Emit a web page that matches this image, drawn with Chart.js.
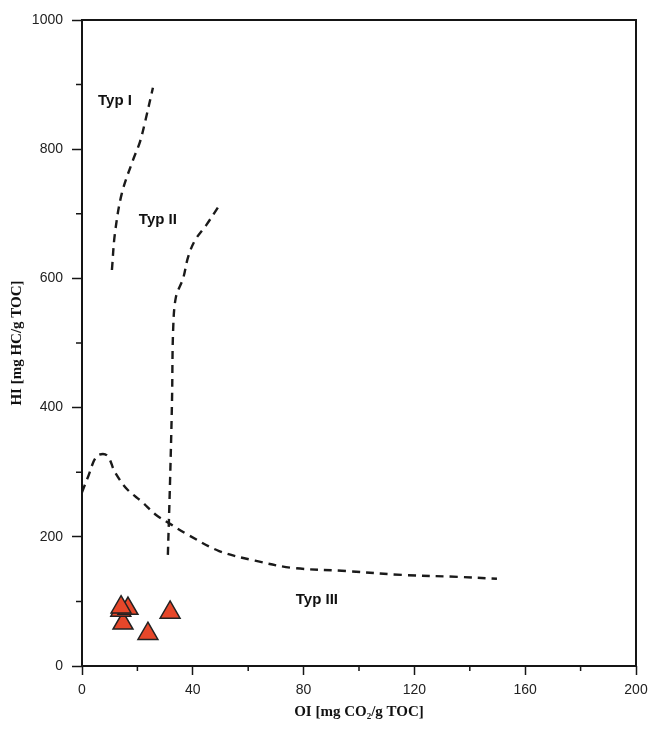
<!DOCTYPE html>
<html>
<head>
<meta charset="utf-8">
<script src="https://cdn.jsdelivr.net/npm/chart.js@4/dist/chart.umd.min.js"></script>
<style>
  html, body { margin: 0; padding: 0; background: #fff; }
  #wrap { width: 650px; height: 729px; }
</style>
</head>
<body>
<div id="wrap"><canvas id="vanKrevelen"></canvas></div>
<script>
// Kerogen type boundary curves (OI, HI)
const typ1X = [10.8, 11.9, 14.4, 18.4, 20.9, 22.7, 25.6];
const typ1Y = [613, 670, 732, 783, 811, 841, 895];

const typ2X = [31.0, 31.8, 32.5, 32.9, 33.9, 36.5, 38.3, 40.8, 45.1, 49.1];
const typ2Y = [172, 288, 412, 520, 571, 600, 633, 659, 684, 710];

const typ3X = [0, 2.2, 5.4, 9.0, 11.9, 16.2, 21.7, 26.4, 31.8, 37.9, 49.5, 62.5, 75.8, 95.3, 115.5, 135.7, 149.8];
const typ3Y = [269, 293, 325, 326, 300, 274, 254, 235, 220, 204, 178, 163, 152, 147, 141, 138, 135];

// samples
const sampleOI = [14.8, 14.0, 16.6, 14.1, 23.8, 31.8];
const sampleHI = [66, 86, 89, 91, 50, 83];

// region labels
const typLabels = ["Typ I", "Typ II", "Typ III"];
const typLabelX = [11.9, 27.4, 84.8];
const typLabelY = [875, 690, 102];

// axis ticks
const xMax = 200, xStep = 40, xMinorStep = 20;
const yMax = 1000, yStep = 200, yMinorStep = 100;

const toPoints = (xs, ys) => xs.map((x, i) => ({ x: x, y: ys[i] }));

function curve(xs, ys) {
  return {
    data: toPoints(xs, ys),
    showLine: true,
    borderColor: "#1a1a1a",
    borderWidth: 2.4,
    borderDash: [8, 6],
    pointRadius: 0,
    tension: 0.35,
    fill: false
  };
}

// frame, minor ticks and type labels
const extras = {
  id: "extras",
  afterDraw(chart) {
    const ctx = chart.ctx;
    const a = chart.chartArea;
    const xs = chart.scales.x;
    const ys = chart.scales.y;
    ctx.save();
    ctx.strokeStyle = "#151515";
    ctx.lineWidth = 2;
    ctx.strokeRect(a.left, a.top, a.right - a.left, a.bottom - a.top);

    ctx.lineWidth = 1.5;
    ctx.beginPath();
    for (let v = xMinorStep; v < xMax; v += xStep) {
      const px = xs.getPixelForValue(v);
      ctx.moveTo(px, a.bottom);
      ctx.lineTo(px, a.bottom + 5);
    }
    for (let v = yMinorStep; v < yMax; v += yStep) {
      const py = ys.getPixelForValue(v);
      ctx.moveTo(a.left, py);
      ctx.lineTo(a.left - 6, py);
    }
    ctx.stroke();

    ctx.fillStyle = "#111";
    ctx.font = "bold 15px 'Liberation Sans', Arial, sans-serif";
    ctx.textAlign = "center";
    ctx.textBaseline = "middle";
    typLabels.forEach((t, i) => {
      ctx.fillText(t, xs.getPixelForValue(typLabelX[i]), ys.getPixelForValue(typLabelY[i]));
    });
    ctx.restore();
  }
};

const ctx = document.getElementById("vanKrevelen").getContext("2d");
new Chart(ctx, {
  type: "scatter",
  data: {
    datasets: [
      curve(typ1X, typ1Y),
      curve(typ2X, typ2Y),
      curve(typ3X, typ3Y),
      {
        data: toPoints(sampleOI, sampleHI),
        pointStyle: "triangle",
        pointRadius: 11.5,
        pointHoverRadius: 11.5,
        backgroundColor: "#e6472a",
        borderColor: "#222",
        borderWidth: 1.5
      }
    ]
  },
  options: {
    responsive: true,
    maintainAspectRatio: false,
    animation: false,
    layout: { padding: { top: 20, right: 14, left: 0, bottom: 0 } },
    plugins: {
      legend: { display: false },
      tooltip: { enabled: false }
    },
    scales: {
      x: {
        type: "linear",
        min: 0,
        max: xMax,
        afterFit: (s) => { s.height = 63; s.paddingLeft = 0; s.paddingRight = 0; },
        border: { display: false },
        grid: { drawOnChartArea: false, tickLength: 9, tickColor: "#151515", tickWidth: 1.5 },
        ticks: {
          stepSize: xStep,
          padding: 7,
          color: "#222",
          font: { family: "'Liberation Sans', Arial, sans-serif", size: 14 }
        },
        title: {
          display: true,
          text: "OI [mg CO\u2082/g TOC]",
          color: "#111",
          padding: { top: 0, bottom: 8 },
          font: { family: "'Liberation Serif', 'Times New Roman', serif", size: 15, weight: "bold" }
        }
      },
      y: {
        type: "linear",
        min: 0,
        max: yMax,
        afterFit: (s) => { s.width = 82; s.paddingTop = 0; s.paddingBottom = 0; },
        border: { display: false },
        grid: { drawOnChartArea: false, tickLength: 10, tickColor: "#151515", tickWidth: 1.5 },
        ticks: {
          stepSize: yStep,
          padding: 9,
          color: "#222",
          callback: (v) => String(v),
          font: { family: "'Liberation Sans', Arial, sans-serif", size: 14 }
        },
        title: {
          display: true,
          text: "HI [mg HC/g TOC]",
          color: "#111",
          padding: { top: 8, bottom: 0 },
          font: { family: "'Liberation Serif', 'Times New Roman', serif", size: 15, weight: "bold" }
        }
      }
    }
  },
  plugins: [extras]
});
</script>
</body>
</html>
